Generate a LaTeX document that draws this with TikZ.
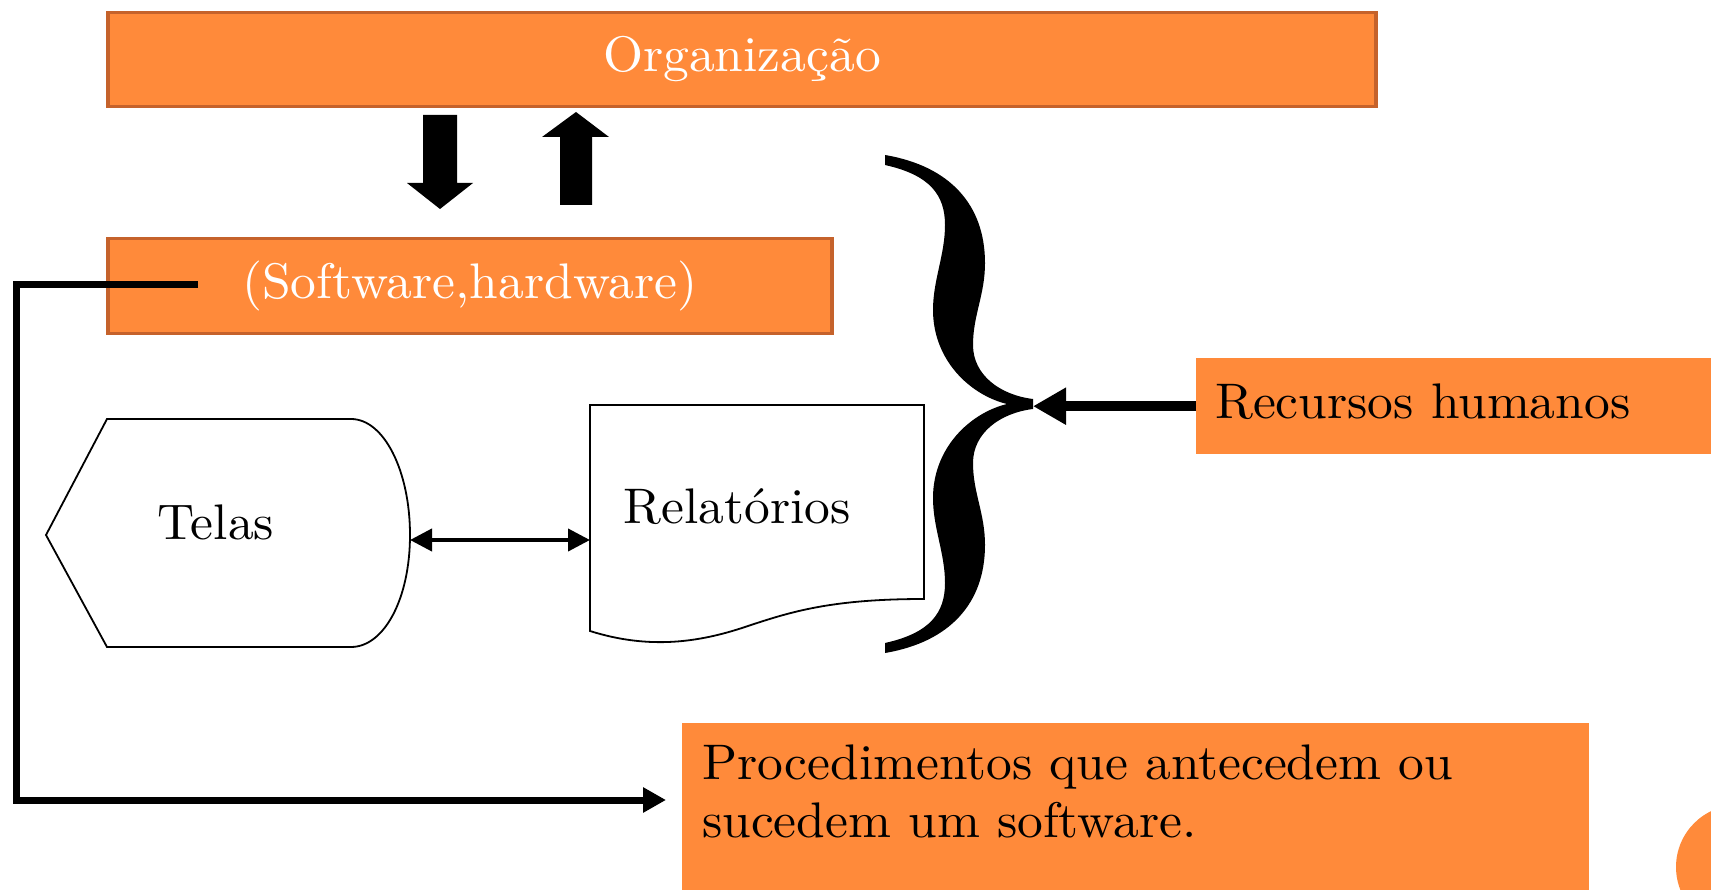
\documentclass[tikz,border=0pt]{standalone}
\usepackage{fontspec}
\setmainfont{lmroman10-regular.otf}[FakeStretch=1.03]
\usetikzlibrary{arrows.meta, positioning}
\definecolor{boxorange}{HTML}{FF8A3A}
\definecolor{boxedge}{HTML}{C5622B}

\tikzset{
    orgbox/.style={draw=boxedge, line width=3.5pt, fill=boxorange, text=white, inner sep=0pt, font=\fontsize{50}{58}\selectfont},
    plainbox/.style={fill=boxorange, inner sep=0pt},
    txt/.style={inner sep=0pt, font=\fontsize{50}{58}\selectfont},
    thinshape/.style={draw, line width=1.8pt, fill=white},
    flow/.style={line width=7pt, -{Triangle[length=23pt,width=24pt]}},
}

\begin{document}
\begin{tikzpicture}[x=1pt, y=-1pt]
    \useasboundingbox (0,0) rectangle (1711,890);

    % Top boxes
    \node[orgbox, minimum width=1268pt, minimum height=94pt] (org) at (742,59.5) {Organização};
    \node[orgbox, minimum width=724pt, minimum height=95pt] (soft) at (470,286) {(Software,hardware)};

    % Block arrows between them
    \fill (423,115) -- (457,115) -- (457,183) -- (473,183) -- (440,209) -- (407,183) -- (423,183) -- cycle;
    \fill (560,205) -- (592,205) -- (592,137) -- (609,137) -- (576,112) -- (542,137) -- (560,137) -- cycle;

    % Telas (display shape)
    \draw[thinshape] (107,419) -- (351,419) .. controls (384,419) and (410,471) .. (410,535)
        .. controls (410,599) and (384,647) .. (351,647) -- (107,647) -- (46,535) -- cycle;
    \coordinate (telasR) at (410,540);
    \node[txt, anchor=base] (telas) at (216,539) {Telas};

    % Relatorios (document shape)
    \draw[thinshape] (590,405) -- (924,405) -- (924,599) .. controls (830,599) and (790,612) .. (745,627)
        .. controls (700,642) and (650,650) .. (590,631) -- cycle;
    \coordinate (relatW) at (590,540);
    \node[txt, anchor=base] (relat) at (737,523) {Relatórios};

    \draw[line width=4pt, {Triangle[length=22pt,width=22pt]}-{Triangle[length=22pt,width=22pt]}] (telasR) -- (relatW);

    % Brace
    \fill (885,155) .. controls (950,166) and (985,205) .. (985,263)
        .. controls (985,295) and (973,315) .. (973,345)
        .. controls (973,375) and (1000,395) .. (1033,399) -- (1033,409)
        .. controls (1000,413) and (973,433) .. (973,463)
        .. controls (973,493) and (985,513) .. (985,545)
        .. controls (985,603) and (950,642) .. (885,653) -- (885,643)
        .. controls (930,633) and (945,613) .. (945,583)
        .. controls (945,553) and (933,528) .. (933,498)
        .. controls (933,448) and (970,413) .. (1007,404)
        .. controls (970,395) and (933,360) .. (933,310)
        .. controls (933,280) and (945,255) .. (945,225)
        .. controls (945,195) and (930,175) .. (885,165) -- cycle;
    \coordinate (tip) at (1033,404);

    % Recursos humanos
    \node[plainbox, anchor=north west, minimum width=515pt, minimum height=96pt] (rec) at (1196,358) {};
    \node[txt, anchor=base west] (rectext) at (1215,418) {Recursos humanos};
    \draw[line width=10pt, -{Triangle[length=33pt,width=35pt]}] (rec.west) -- (rec.west -| tip);

    % Procedimentos
    \node[plainbox, anchor=north west, minimum width=907pt, minimum height=167pt] (proc) at (682,723) {};
    \node[txt, anchor=north west, align=left] (proctext) at (702,745) {Procedimentos que antecedem ou\\sucedem um software.};

    \coordinate (start) at (198,285);
    \coordinate (procIn) at (666,800);
    \draw[flow] (start) -- (16,285) -- (16,800) -- (procIn);

    % corner circle
    \begin{scope}
        \clip (0,0) rectangle (1711,890);
        \fill[boxorange] (1738,867) circle[radius=62pt];
    \end{scope}
\end{tikzpicture}
\end{document}
